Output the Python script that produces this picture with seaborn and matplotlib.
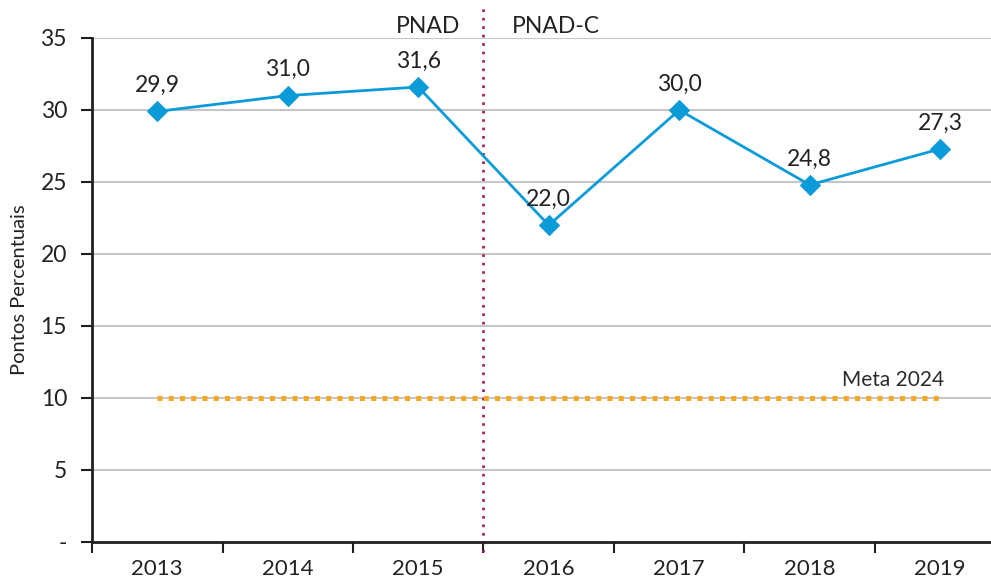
import numpy as np
import pandas as pd
import seaborn as sns
import matplotlib.pyplot as plt
from matplotlib.ticker import FixedLocator, FixedFormatter

# Dados
anos = ['2013', '2014', '2015', '2016', '2017', '2018', '2019']
valores = [29.9, 31.0, 31.6, 22.0, 30.0, 24.8, 27.3]
meta_2024 = 10
y_ticks = [0, 5, 10, 15, 20, 25, 30, 35]
y_labels = ['-', '5', '10', '15', '20', '25', '30', '35']

sns.set_theme(style='white')
plt.rcParams['font.family'] = ['Lato', 'DejaVu Sans']

df = pd.DataFrame({'pos': np.arange(len(anos)), 'valor': valores})

fig = plt.figure(figsize=(9.91, 5.80), dpi=100)
ax = fig.add_axes([92 / 991, 38 / 580, 1 - 92 / 991, (542 - 38) / 580])

# grade horizontal
for yv in y_ticks[1:]:
    ax.axhline(yv, color='#c6c6c6', lw=1.5, zorder=0)

# meta
ax.plot([0, len(anos) - 1], [meta_2024, meta_2024], color='#f7a823', lw=3.6,
        linestyle=(0, (1, 1.25)), zorder=2)
ax.text(len(anos) - 1 + 0.03, meta_2024 + 0.55, 'Meta 2024', ha='right', va='bottom',
        fontsize=15, color='#2b2b2b')

# série
sns.lineplot(data=df, x='pos', y='valor', ax=ax, color='#0b9bd9', lw=2,
             marker='D', markersize=10, markeredgecolor='#0b9bd9', zorder=3)
for i, v in enumerate(valores):
    ax.annotate(f'{v:.1f}'.replace('.', ','), (i, v), xytext=(0, 11),
                textcoords='offset points', ha='center', va='bottom',
                fontsize=16.5, color='#222222')

# quebra de série PNAD / PNAD-C
ax.plot([2.5, 2.5], [-0.7, 37.2], color='#a3195b', lw=1.9,
        linestyle=(0, (1, 2.2)), clip_on=False, zorder=1)
ax.text(2.32, 35.05, 'PNAD', ha='right', va='bottom', fontsize=16.5, color='#222222')
ax.text(2.72, 35.05, 'PNAD-C', ha='left', va='bottom', fontsize=16.5, color='#222222')

ax.set_xlim(-0.5, -0.5 + (991 - 92) / 130.5)
ax.set_ylim(0, 35)

# eixo x: marcas entre categorias, rótulos no centro
ax.xaxis.set_major_locator(FixedLocator(np.arange(-0.5, len(anos), 1.0)))
ax.xaxis.set_major_formatter(FixedFormatter([''] * (len(anos) + 1)))
ax.xaxis.set_minor_locator(FixedLocator(np.arange(len(anos))))
ax.xaxis.set_minor_formatter(FixedFormatter(anos))
ax.tick_params(axis='x', which='major', direction='out', length=8, width=1.5,
               color='#231f20', bottom=True)
ax.tick_params(axis='x', which='minor', length=0, labelsize=16, pad=12,
               labelcolor='#222222')

ax.set_yticks(y_ticks)
ax.set_yticklabels(y_labels)
ax.tick_params(axis='y', direction='out', length=8, width=1.5, color='#231f20',
               left=True, labelsize=16.5, pad=10, labelcolor='#222222')

ax.set_xlabel('')
ax.set_ylabel('Pontos Percentuais', fontsize=14.5, color='#222222', labelpad=9)

for s in ['top', 'right']:
    ax.spines[s].set_visible(False)
for s in ['left', 'bottom']:
    ax.spines[s].set_color('#231f20')
    ax.spines[s].set_linewidth(2)

fig.savefig('out.png', dpi=100)
